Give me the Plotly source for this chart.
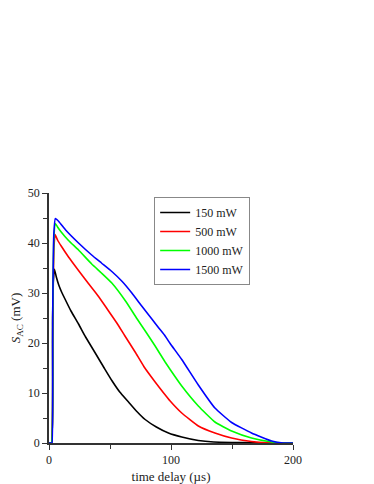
import plotly.graph_objects as go

# 150 mW
t_150 = [0, 2, 3, 3.5, 4.4, 6, 8, 10.5, 13.3, 18, 24.2, 30, 37.9, 45, 51.5, 58, 65.2, 72, 78.8, 88, 97.9, 108.8, 122.4, 135, 150, 170, 200]
v_150 = [0, 0, 20, 32, 34.8, 33.2, 31.6, 30.1, 28.7, 26.4, 23.8, 21.2, 18, 15.1, 12.5, 10.2, 8.2, 6.3, 4.7, 3.2, 2, 1.2, 0.5, 0.2, 0.1, 0.05, 0]

# 500 mW
t_500 = [0, 2, 3, 4, 5, 7, 10, 16, 24.2, 32, 40.6, 48, 55.6, 62, 70.6, 78, 87, 93, 99.3, 108.8, 122.4, 136, 149.7, 166, 180, 200]
v_500 = [0, 0, 25, 39, 41.7, 40.6, 39.4, 37.2, 34.5, 32, 29.3, 26.7, 24, 21.5, 18.2, 15.2, 12.2, 10.3, 8.4, 6, 3.4, 2, 1, 0.3, 0.05, 0]

# 1000 mW
t_1000 = [0, 2, 3, 4, 5.2, 7, 10, 16, 24.2, 35, 43, 51.5, 63, 72, 80, 87, 95.2, 99.3, 108.8, 122.4, 136, 149.7, 166, 182.5, 192, 200]
v_1000 = [0, 0, 25, 41, 43.9, 43.2, 42.2, 40.5, 38.6, 35.8, 34, 32, 28.3, 24.9, 22, 19.4, 16.2, 14.7, 11.4, 7.4, 4.2, 2.4, 1, 0.2, 0, 0]

# 1500 mW
t_1500 = [0, 2, 2.5, 3, 4, 5.2, 8, 14, 24.2, 35, 43, 51.5, 60, 67.9, 76, 84.3, 90, 95.2, 99.3, 108.8, 122.4, 136, 149.7, 166, 182.5, 192, 200]
v_1500 = [0, 0, 0, 25, 42, 44.9, 44.3, 42.5, 40, 37.6, 36, 34.3, 32.3, 30, 27.4, 24.8, 23, 21.4, 19.9, 16.7, 11.6, 7, 4.1, 2, 0.4, 0, 0]

series = [
    ("150 mW", t_150, v_150, "#000000"),
    ("500 mW", t_500, v_500, "#ff0000"),
    ("1000 mW", t_1000, v_1000, "#00ff00"),
    ("1500 mW", t_1500, v_1500, "#0000ff"),
]

x_ticks = [0, 100, 200]
y_ticks = [0, 10, 20, 30, 40, 50]

fig = go.Figure()
for name, t, v, c in series:
    fig.add_trace(go.Scatter(x=t, y=v, mode="lines", name=name,
                             line=dict(color=c, width=1.6, shape="spline", smoothing=0.4)))

font = "Liberation Serif"
axis_common = dict(
    showgrid=False, zeroline=False, showline=True, linecolor="#333333", linewidth=1.5,
    ticks="outside", ticklen=5, tickwidth=1.2, tickcolor="#333333", automargin=False,
    tickfont=dict(family=font, size=12, color="#222222"),
    minor=dict(ticks="outside", ticklen=4, tickwidth=1.2, tickcolor="#333333"),
)

fig.update_layout(
    width=366, height=476,
    margin=dict(l=41, r=81, t=185, b=41),
    paper_bgcolor="white", plot_bgcolor="white",
    font=dict(family=font, size=12, color="#222222"),
    xaxis=dict(range=[0, 200], tickvals=x_ticks,
               title=dict(text="time delay (\u00b5s)", font=dict(family=font, size=13), standoff=8),
               **axis_common),
    yaxis=dict(range=[0, 50], tickvals=y_ticks,
               title=dict(text="<i>S</i><sub>AC</sub> (mV)", font=dict(family=font, size=13), standoff=16),
               **axis_common),
    showlegend=True,
    legend=dict(x=0.431, y=0.984, xanchor="left", yanchor="top",
                bordercolor="#888888", borderwidth=1, bgcolor="white",
                font=dict(family=font, size=12), itemwidth=30,
                tracegroupgap=0),
)
fig.update_xaxes(minor=dict(tickvals=[50, 150]))
fig.update_yaxes(minor=dict(tickvals=[5, 15, 25, 35, 45]))

fig.write_html("out.html")
